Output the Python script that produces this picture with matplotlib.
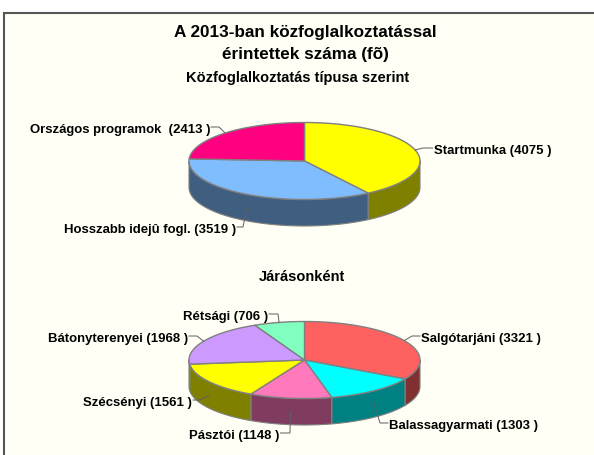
import numpy as np
import matplotlib
matplotlib.use('Agg')
import matplotlib.pyplot as plt
from matplotlib.patches import Polygon, Rectangle

plt.rcParams['font.family'] = ['Liberation Sans', 'DejaVu Sans']

# data
tipus_labels = ['Startmunka (4075 )', 'Hosszabb idejû fogl. (3519 )', 'Országos programok  (2413 )']
tipus_values = [4075, 3519, 2413]
tipus_colors = ['#FFFF00', '#80BDFF', '#FF0080']
tipus_sides = ['#808000', '#405F80', '#800040']

jaras_labels = ['Salgótarjáni (3321 )', 'Balassagyarmati (1303 )', 'Pásztói (1148 )',
                'Szécsényi (1561 )', 'Bátonyterenyei (1968 )', 'Rétsági (706 )']
jaras_values = [3321, 1303, 1148, 1561, 1968, 706]
jaras_colors = ['#FF6060', '#00FFFF', '#FF79BC', '#FFFF00', '#CC99FF', '#80FFC0']
jaras_sides = ['#803030', '#008080', '#803C5E', '#808000', '#664C80', '#408060']

# label anchors: x of the text end nearest the pie, y of the text, elbow of the leader
tipus_anchor = [(433.5, 150, 423), (236, 229, 243), (210, 129, 219)]
jaras_anchor = [(421, 338, 412), (389, 425, 380), (279.5, 435, 290),
                (192, 402, 200), (188, 338, 197), (268, 316, 278)]

RX, RY, DEPTH = 115.5, 38.5, 26.5
EDGE = '#808080'
LABEL_SIZE = 9.45


def ell(cx, cy, a):
    a = np.radians(a)
    return cx + RX * np.sin(a), cy - RY * np.cos(a)


def draw_pie(ax, cx, cy, values, colors, sides, labels, anchors):
    bounds = np.concatenate([[0], np.cumsum(values)]) / np.sum(values) * 360

    # side wall, only the front half can be seen
    for i in range(len(values)):
        a0, a1 = max(bounds[i], 90), min(bounds[i + 1], 270)
        if a1 <= a0:
            continue
        t = np.linspace(a0, a1, 80)
        x, y = ell(cx, cy, t)
        pts = np.r_[np.c_[x, y], np.c_[x[::-1], y[::-1] + DEPTH]]
        ax.add_patch(Polygon(pts, fc=sides[i], ec=EDGE, lw=0.8, zorder=2))

    # top face
    for i in range(len(values)):
        t = np.linspace(bounds[i], bounds[i + 1], 120)
        x, y = ell(cx, cy, t)
        pts = np.r_[[[cx, cy]], np.c_[x, y]]
        ax.add_patch(Polygon(pts, fc=colors[i], ec=EDGE, lw=1.0, zorder=3))

    # labels + leader lines
    for i, lab in enumerate(labels):
        mid = (bounds[i] + bounds[i + 1]) / 2
        sx, sy = ell(cx, cy, mid)
        if 90 < mid < 270:
            sy += DEPTH / 2
        tx, ty, elbow = anchors[i]
        right_side = tx > elbow
        ly = ty - 2
        end = tx - 1 if right_side else tx + 1
        ax.plot([sx, elbow, end], [sy, ly, ly], color='#606060', lw=0.7, zorder=4)
        ax.text(tx, ty + 1, lab, ha='left' if right_side else 'right', va='center',
                fontsize=LABEL_SIZE, fontweight='bold', color='black', zorder=5)


fig = plt.figure(figsize=(5.94, 4.55), dpi=100, facecolor='white')
ax = fig.add_axes([0, 0, 1, 1])
ax.set_xlim(0, 594)
ax.set_ylim(455, 0)
ax.axis('off')

ax.add_patch(Rectangle((4, 13), 600, 460, fc='#FFFFF5', ec='#555555', lw=1.5, zorder=0))

ax.text(305, 32.5, 'A 2013-ban közfoglalkoztatással', ha='center', va='center',
        fontsize=12.3, fontweight='bold')
ax.text(305, 54, 'érintettek száma (fõ)', ha='center', va='center',
        fontsize=12.3, fontweight='bold')
ax.text(298, 78, 'Közfoglalkoztatás típusa szerint', ha='center', va='center',
        fontsize=10.5, fontweight='bold')
ax.text(302, 277, 'Járásonként', ha='center', va='center',
        fontsize=10.5, fontweight='bold')

draw_pie(ax, 304.5, 161, tipus_values, tipus_colors, tipus_sides, tipus_labels, tipus_anchor)
draw_pie(ax, 304.5, 360, jaras_values, jaras_colors, jaras_sides, jaras_labels, jaras_anchor)

fig.savefig('out.png', dpi=100)
